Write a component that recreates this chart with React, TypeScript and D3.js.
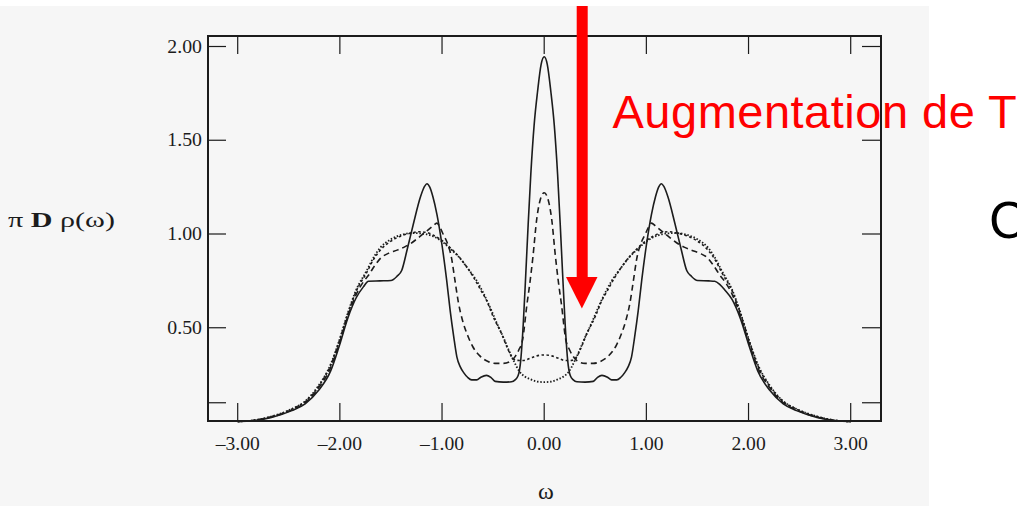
import React from "react";
import * as d3 from "d3";

// ---- tick values / labels ----
const xTicks = [-3, -2, -1, 0, 1, 2, 3];
const xTickLabels = ["–3.00", "–2.00", "–1.00", "0.00", "1.00", "2.00", "3.00"];
const yTicks = [0.1, 0.5, 1.0, 1.5, 2.0];
const yTickLabels = ["", "0.50", "1.00", "1.50", "2.00"];

// ---- series: [omega, pi D rho(omega)] ----
const solidCurve: [number, number][] = [
  [-3.0, 0.0], [-2.85, 0.004], [-2.67, 0.022], [-2.47, 0.058], [-2.34, 0.094], [-2.21, 0.165],
  [-2.09, 0.27], [-2.01, 0.396], [-1.92, 0.555], [-1.84, 0.66], [-1.77, 0.718], [-1.72, 0.748],
  [-1.61, 0.75], [-1.5, 0.752], [-1.44, 0.775], [-1.395, 0.805], [-1.34, 0.92], [-1.28, 1.055],
  [-1.21, 1.2], [-1.17, 1.255], [-1.148, 1.268], [-1.12, 1.25], [-1.09, 1.2], [-1.05, 1.105],
  [-1.0, 0.94], [-0.955, 0.755], [-0.92, 0.59], [-0.885, 0.45], [-0.855, 0.345], [-0.82, 0.29],
  [-0.79, 0.262], [-0.75, 0.236], [-0.71, 0.222], [-0.66, 0.222], [-0.62, 0.236], [-0.565, 0.246],
  [-0.52, 0.234], [-0.48, 0.214], [-0.4, 0.21], [-0.32, 0.212], [-0.285, 0.222], [-0.255, 0.245],
  [-0.23, 0.325], [-0.205, 0.52], [-0.18, 0.79], [-0.157, 1.05], [-0.131, 1.32], [-0.098, 1.585],
  [-0.065, 1.76], [-0.03, 1.905], [0.0, 1.945],
  [0.03, 1.905], [0.065, 1.76], [0.098, 1.585], [0.131, 1.32], [0.157, 1.05], [0.18, 0.79],
  [0.205, 0.52], [0.23, 0.325], [0.255, 0.245], [0.285, 0.222], [0.32, 0.212], [0.4, 0.21],
  [0.48, 0.214], [0.52, 0.234], [0.565, 0.246], [0.62, 0.236], [0.66, 0.222], [0.71, 0.222],
  [0.75, 0.236], [0.79, 0.262], [0.82, 0.29], [0.855, 0.345], [0.885, 0.45], [0.92, 0.59],
  [0.955, 0.755], [1.0, 0.94], [1.05, 1.105], [1.09, 1.2], [1.12, 1.25], [1.148, 1.268],
  [1.17, 1.255], [1.21, 1.2], [1.28, 1.055], [1.34, 0.92], [1.395, 0.805], [1.44, 0.775],
  [1.5, 0.752], [1.61, 0.75], [1.67, 0.748], [1.72, 0.73], [1.77, 0.7], [1.84, 0.65],
  [1.92, 0.55], [2.01, 0.396], [2.09, 0.27], [2.21, 0.165], [2.34, 0.094], [2.47, 0.058],
  [2.67, 0.022], [2.85, 0.004], [3.0, 0.0],
];

const dashedCurve: [number, number][] = [
  [-3.0, 0.0], [-2.85, 0.005], [-2.67, 0.024], [-2.47, 0.062], [-2.34, 0.1], [-2.21, 0.178],
  [-2.09, 0.288], [-2.01, 0.41], [-1.92, 0.565], [-1.84, 0.678], [-1.77, 0.745], [-1.72, 0.78],
  [-1.66, 0.83], [-1.6, 0.872], [-1.52, 0.898], [-1.44, 0.914], [-1.37, 0.93], [-1.31, 0.948],
  [-1.25, 0.972], [-1.2, 0.994], [-1.148, 1.017], [-1.09, 1.042], [-1.05, 1.058], [-1.02, 1.035],
  [-0.99, 1.0], [-0.95, 0.955], [-0.91, 0.88], [-0.87, 0.74], [-0.84, 0.635], [-0.8, 0.54],
  [-0.75, 0.46], [-0.7, 0.4], [-0.63, 0.35], [-0.55, 0.32], [-0.48, 0.31], [-0.4, 0.31],
  [-0.32, 0.325], [-0.28, 0.35], [-0.25, 0.38], [-0.21, 0.44], [-0.17, 0.62], [-0.14, 0.74],
  [-0.11, 0.88], [-0.073, 1.08], [-0.04, 1.18], [0.0, 1.22],
  [0.04, 1.18], [0.073, 1.08], [0.11, 0.88], [0.14, 0.74], [0.17, 0.62], [0.21, 0.44],
  [0.25, 0.38], [0.28, 0.35], [0.32, 0.325], [0.4, 0.31], [0.48, 0.31], [0.55, 0.32],
  [0.63, 0.35], [0.7, 0.4], [0.75, 0.46], [0.8, 0.54], [0.84, 0.635], [0.87, 0.74],
  [0.91, 0.88], [0.95, 0.955], [0.99, 1.0], [1.02, 1.035], [1.05, 1.058], [1.09, 1.042],
  [1.148, 1.017], [1.2, 0.994], [1.25, 0.972], [1.31, 0.948], [1.37, 0.93], [1.44, 0.914],
  [1.52, 0.898], [1.6, 0.872], [1.66, 0.83], [1.72, 0.78], [1.77, 0.745], [1.84, 0.678],
  [1.92, 0.565], [2.01, 0.41], [2.09, 0.288], [2.21, 0.178], [2.34, 0.1], [2.47, 0.062],
  [2.67, 0.024], [2.85, 0.005], [3.0, 0.0],
];

const shortDotCurve: [number, number][] = [
  [-3.0, 0.0], [-2.85, 0.006], [-2.67, 0.026], [-2.47, 0.066], [-2.34, 0.106], [-2.21, 0.186],
  [-2.09, 0.3], [-2.01, 0.422], [-1.92, 0.577], [-1.84, 0.695], [-1.737, 0.795], [-1.67, 0.865],
  [-1.607, 0.912], [-1.5, 0.962], [-1.4, 0.99], [-1.3, 1.005], [-1.22, 1.012], [-1.148, 1.008],
  [-1.08, 0.992], [-1.02, 0.973], [-0.922, 0.928], [-0.824, 0.872], [-0.75, 0.818], [-0.69, 0.768],
  [-0.62, 0.7], [-0.563, 0.644], [-0.5, 0.56], [-0.416, 0.467], [-0.36, 0.392], [-0.318, 0.345],
  [-0.27, 0.326], [-0.205, 0.325], [-0.14, 0.337], [-0.073, 0.35], [0.0, 0.355],
  [0.073, 0.35], [0.14, 0.337], [0.205, 0.325], [0.27, 0.326], [0.318, 0.345], [0.36, 0.392],
  [0.416, 0.467], [0.5, 0.56], [0.563, 0.644], [0.62, 0.7], [0.69, 0.768], [0.75, 0.818],
  [0.824, 0.872], [0.922, 0.928], [1.02, 0.973], [1.08, 0.992], [1.148, 1.008], [1.22, 1.012],
  [1.3, 1.005], [1.4, 0.99], [1.5, 0.962], [1.607, 0.912], [1.67, 0.865], [1.737, 0.795],
  [1.84, 0.695], [1.92, 0.577], [2.01, 0.422], [2.09, 0.3], [2.21, 0.186], [2.34, 0.106],
  [2.47, 0.066], [2.67, 0.026], [2.85, 0.006], [3.0, 0.0],
];

const fineDotCurve: [number, number][] = [
  [-3.0, 0.0], [-2.85, 0.006], [-2.67, 0.027], [-2.47, 0.067], [-2.34, 0.108], [-2.21, 0.19],
  [-2.09, 0.305], [-2.01, 0.426], [-1.92, 0.582], [-1.84, 0.702], [-1.737, 0.805], [-1.67, 0.875],
  [-1.607, 0.925], [-1.5, 0.972], [-1.4, 0.995], [-1.3, 1.005], [-1.2, 1.003], [-1.1, 0.99],
  [-1.02, 0.968], [-0.92, 0.922], [-0.82, 0.868], [-0.75, 0.818], [-0.66, 0.75], [-0.6, 0.69],
  [-0.53, 0.609], [-0.46, 0.52], [-0.4, 0.449], [-0.35, 0.385], [-0.3, 0.325], [-0.237, 0.263],
  [-0.19, 0.24], [-0.139, 0.226], [-0.07, 0.213], [0.0, 0.21],
  [0.07, 0.213], [0.139, 0.226], [0.19, 0.24], [0.237, 0.263], [0.3, 0.325], [0.35, 0.385],
  [0.4, 0.449], [0.46, 0.52], [0.53, 0.609], [0.6, 0.69], [0.66, 0.75], [0.75, 0.818],
  [0.82, 0.868], [0.92, 0.922], [1.02, 0.968], [1.1, 0.99], [1.2, 1.003], [1.3, 1.005],
  [1.4, 0.995], [1.5, 0.972], [1.607, 0.925], [1.67, 0.875], [1.737, 0.805], [1.84, 0.702],
  [1.92, 0.582], [2.01, 0.426], [2.09, 0.305], [2.21, 0.19], [2.34, 0.108], [2.47, 0.067],
  [2.67, 0.027], [2.85, 0.006], [3.0, 0.0],
];

const seriesStyles = [
  { data: solidCurve, dash: "none", width: 1.6 },
  { data: dashedCurve, dash: "6,4", width: 1.6 },
  { data: shortDotCurve, dash: "2.5,2.5", width: 1.6 },
  { data: fineDotCurve, dash: "1.5,1.8", width: 1.8 },
];

export default function App() {
  const W = 1017;
  const H = 506;
  const x = d3.scaleLinear().domain([-3, 3]).range([237.7, 850.7]);
  const y = d3.scaleLinear().domain([0, 2]).range([421.5, 46.5]);
  const fl = 208, fr = 881, ft = 36, fb = 421;
  const line = d3
    .line<[number, number]>()
    .x((d) => x(d[0]))
    .y((d) => y(d[1]))
    .curve(d3.curveMonotoneX);
  const ink = "#1c1c1c";
  const serif = "'Liberation Serif', 'Times New Roman', serif";
  const sans = "'Liberation Sans', Arial, sans-serif";

  return (
    <svg
      width={W}
      height={H}
      viewBox={`0 0 ${W} ${H}`}
      style={{ position: "absolute", left: 0, top: 0, background: "#ffffff" }}
    >
      <rect x={0} y={6} width={929} height={H - 6} fill="#f6f6f6" />

      {/* curves */}
      {seriesStyles.map((s, i) => (
        <path
          key={i}
          d={line(s.data) || ""}
          fill="none"
          stroke={ink}
          strokeWidth={s.width}
          strokeDasharray={s.dash}
          strokeLinejoin="round"
        />
      ))}

      {/* frame */}
      <rect x={fl} y={ft} width={fr - fl} height={fb - ft} fill="none" stroke={ink} strokeWidth={2} />

      {/* x ticks top & bottom */}
      {xTicks.map((t, i) => (
        <g key={"xt" + i}>
          <line x1={x(t)} x2={x(t)} y1={ft} y2={ft + 18} stroke={ink} strokeWidth={1.2} />
          <line x1={x(t)} x2={x(t)} y1={fb} y2={fb - 18} stroke={ink} strokeWidth={1.2} />
          <g transform={`translate(${x(t)},450) scale(1.09,1)`}>
            <text x={0} y={0} textAnchor="middle" fontFamily={serif} fontSize={18} fill={ink}>
              {xTickLabels[i]}
            </text>
          </g>
        </g>
      ))}

      {/* y ticks left & right */}
      {yTicks.map((t, i) => (
        <g key={"yt" + i}>
          <line x1={fl} x2={fl + 18} y1={y(t)} y2={y(t)} stroke={ink} strokeWidth={1.2} />
          <line x1={fr} x2={fr - 19} y1={y(t)} y2={y(t)} stroke={ink} strokeWidth={1.2} />
          {yTickLabels[i] && (
            <g transform={`translate(202,${y(t) + 6}) scale(1.1,1)`}>
              <text x={0} y={0} textAnchor="end" fontFamily={serif} fontSize={18} fill={ink}>
                {yTickLabels[i]}
              </text>
            </g>
          )}
        </g>
      ))}

      {/* axis labels */}
      <text
        x={8}
        y={227}
        fontFamily={serif}
        fontSize={22}
        fill={ink}
        textLength={107}
        lengthAdjust="spacingAndGlyphs"
      >
        π <tspan fontWeight="bold">D</tspan> ρ(ω)
      </text>
      <text x={546} y={499} textAnchor="middle" fontFamily={serif} fontSize={24} fill={ink}>
        ω
      </text>

      {/* red annotation */}
      <rect x={576.7} y={6} width={11} height={272} fill="#ff0000" />
      <polygon points="566,277 597.5,277 581.9,308.5" fill="#ff0000" />
      <text x={612.5} y={127.5} fontFamily={sans} fontSize={47} letterSpacing={0.5} fill="#ff0000">
        Augmentation de T
      </text>
      <text x={989} y={238} fontFamily={sans} fontSize={52} fill="#000000">
        C
      </text>
    </svg>
  );
}
